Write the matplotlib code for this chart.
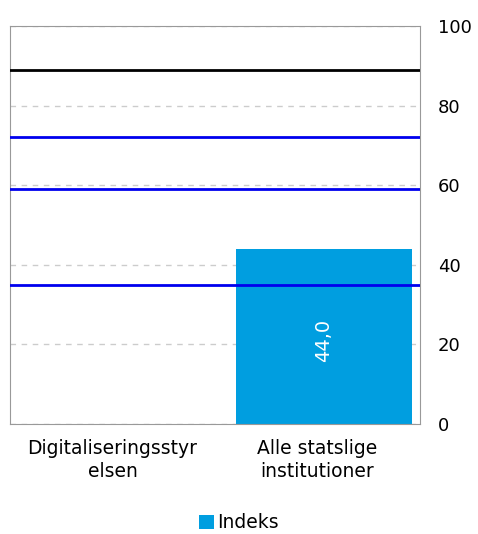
import numpy as np
import matplotlib.pyplot as plt

categories = ["Digitaliseringsstyr\nelsen", "Alle statslige\ninstitutioner"]
indeks = [np.nan, 44.0]
labels = ["", "44,0"]
black_line = 89
blue_lines = [72, 59, 35]
yticks = [0, 20, 40, 60, 80, 100]

plt.rcParams['font.family'] = ['DejaVu Sans']

fig = plt.figure(figsize=(4.78, 5.34), dpi=100)
ax = fig.add_axes([10 / 478, 1 - 424 / 534, 410 / 478, 398 / 534])

x = np.arange(len(categories))
bars = ax.bar(x + 0.03, indeks, width=0.86, color='#009ee0', label='Indeks', zorder=2)
for b, lab in zip(bars, labels):
    if lab:
        ax.text(b.get_x() + b.get_width() / 2, b.get_height() / 2 - 1, lab,
                rotation=90, ha='center', va='center', color='white', fontsize=14, zorder=4)

ax.axhline(black_line, color='black', lw=2, zorder=3)
for v in blue_lines:
    ax.axhline(v, color='#0000ee', lw=2, zorder=3)

ax.set_xlim(-0.5, 1.5)
ax.set_ylim(0, 100)
ax.set_yticks(yticks)
ax.yaxis.tick_right()
ax.tick_params(axis='y', length=0, labelsize=13, pad=13)
ax.tick_params(axis='x', length=0, labelsize=13.5, pad=11)
ax.set_xticks(x)
ax.set_xticklabels(categories, linespacing=1.25)
ax.grid(axis='y', color='#cccccc', linestyle=(0, (4, 4)), lw=1, zorder=1)
for s in ax.spines.values():
    s.set_color('#999999')

fig.legend(loc='center', bbox_to_anchor=(0.5, 1 - 523 / 534), frameon=False, fontsize=13.5,
           handlelength=0.8, handleheight=0.8, handletextpad=0.2)

fig.savefig('out.png', dpi=100)
